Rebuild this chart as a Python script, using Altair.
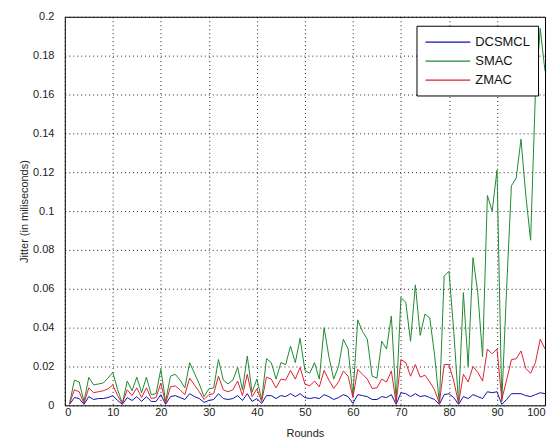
import altair as alt
import pandas as pd

rounds = list(range(1, 101))

dcsmcl = [0.0005, 0.004, 0.0035, 0.0005, 0.0045, 0.003, 0.0035, 0.0035, 0.004, 0.005,
          0.0025, 0.0005, 0.004, 0.0025, 0.0045, 0.002, 0.0045, 0.002, 0.002, 0.0055,
          0.0005, 0.0045, 0.005, 0.004, 0.003, 0.006, 0.0045, 0.0035, 0.0015, 0.0025,
          0.003, 0.006, 0.0035, 0.003, 0.0035, 0.005, 0.0025, 0.006, 0.002, 0.0035,
          0.001, 0.005, 0.005, 0.0035, 0.005, 0.0045, 0.006, 0.0045, 0.006, 0.004,
          0.0035, 0.004, 0.0035, 0.0055, 0.0045, 0.003, 0.004, 0.0055, 0.0045, 0.001,
          0.0055, 0.005, 0.0045, 0.003, 0.003, 0.0045, 0.004, 0.0055, 0.0005, 0.0065,
          0.006, 0.0045, 0.006, 0.0045, 0.005, 0.004, 0.003, 0.0005, 0.0055, 0.006,
          0.004, 0.0005, 0.0045, 0.0035, 0.0055, 0.0045, 0.0035, 0.007, 0.0065, 0.007,
          0.0005, 0.003, 0.006, 0.006, 0.006, 0.005, 0.0045, 0.0055, 0.0065, 0.006]

smac = [0.001, 0.013, 0.012, 0.002, 0.0144, 0.0105, 0.011, 0.0115, 0.014, 0.017,
        0.008, 0.001, 0.0125, 0.0075, 0.0145, 0.0065, 0.0145, 0.0055, 0.006, 0.0185,
        0.002, 0.015, 0.016, 0.013, 0.009, 0.022, 0.0165, 0.011, 0.0045, 0.0085,
        0.009, 0.0236, 0.013, 0.011, 0.013, 0.0195, 0.008, 0.0254, 0.0067, 0.0135,
        0.003, 0.024, 0.022, 0.0135, 0.022, 0.021, 0.0305, 0.022, 0.0345, 0.018,
        0.0165, 0.022, 0.0135, 0.040, 0.025, 0.0135, 0.020, 0.034, 0.029, 0.005,
        0.044, 0.038, 0.034, 0.015, 0.014, 0.033, 0.029, 0.046, 0.002, 0.0555,
        0.053, 0.033, 0.062, 0.036, 0.047, 0.045, 0.026, 0.001, 0.0665, 0.069,
        0.038, 0.001, 0.058, 0.020, 0.076, 0.058, 0.025, 0.108, 0.100, 0.121,
        0.002, 0.060, 0.113, 0.117, 0.137, 0.108, 0.085, 0.161, 0.194, 0.172]

zmac = [0.001, 0.008, 0.007, 0.001, 0.009, 0.0065, 0.007, 0.0075, 0.0085, 0.0105,
        0.005, 0.001, 0.008, 0.005, 0.009, 0.004, 0.009, 0.0035, 0.004, 0.0115,
        0.001, 0.0095, 0.010, 0.008, 0.0055, 0.014, 0.0105, 0.007, 0.003, 0.0055,
        0.006, 0.015, 0.008, 0.007, 0.008, 0.0125, 0.005, 0.016, 0.0045, 0.0085,
        0.002, 0.0145, 0.0135, 0.009, 0.0135, 0.013, 0.018, 0.0135, 0.0195, 0.011,
        0.010, 0.0125, 0.0095, 0.018, 0.013, 0.0087, 0.012, 0.0177, 0.015, 0.004,
        0.0185, 0.016, 0.0135, 0.0087, 0.009, 0.0135, 0.012, 0.0177, 0.001, 0.0236,
        0.022, 0.015, 0.021, 0.0145, 0.0155, 0.012, 0.008, 0.001, 0.021, 0.021,
        0.0125, 0.001, 0.016, 0.012, 0.020, 0.017, 0.0125, 0.029, 0.0265, 0.029,
        0.003, 0.013, 0.0235, 0.024, 0.028, 0.019, 0.0165, 0.022, 0.034, 0.029]

series_names = ["DCSMCL", "SMAC", "ZMAC"]
series_colors = ["#1010b0", "#1f8a30", "#e02030"]
x_ticks = list(range(0, 101, 10))
y_ticks = [round(i * 0.02, 2) for i in range(11)]

rows = []
for name, vals in zip(series_names, [dcsmcl, smac, zmac]):
    for r, v in zip(rounds, vals):
        rows.append({"Round": r, "Jitter": v, "Protocol": name})
df = pd.DataFrame(rows)

FONT = "Liberation Sans"

axis_common = dict(grid=True, ticks=False, domain=False,
                   gridColor="black", gridDash=[1, 3], gridOpacity=0.85, gridWidth=1,
                   labelFont=FONT, labelFontSize=11, labelColor="#222",
                   titleFont=FONT, titleFontSize=11, titleFontWeight="normal",
                   titleColor="#222")

chart = alt.Chart(df).mark_line(strokeWidth=1, clip=True).encode(
    x=alt.X("Round:Q",
            scale=alt.Scale(domain=[0, 100], nice=False, zero=False),
            axis=alt.Axis(title="Rounds", values=x_ticks, format="d",
                          labelPadding=1, titlePadding=10, **axis_common)),
    y=alt.Y("Jitter:Q",
            scale=alt.Scale(domain=[0, 0.2], nice=False),
            axis=alt.Axis(title="Jitter (in miliseconds)", values=y_ticks, format="~g",
                          labelPadding=11, titlePadding=3, **axis_common)),
    color=alt.Color("Protocol:N",
                    scale=alt.Scale(domain=series_names, range=series_colors),
                    legend=alt.Legend(title=None, orient="none", legendX=353, legendY=9,
                                      symbolType="M-3,0L3,0", symbolSize=225,
                                      symbolStrokeWidth=1.2, symbolOffset=15,
                                      labelFontSize=13, labelFont=FONT, labelColor="#111",
                                      strokeColor="black", fillColor="white",
                                      padding=8, rowPadding=3, labelOffset=19,
                                      cornerRadius=0)),
    order=alt.Order("Round:Q"),
).properties(
    width=482, height=390, background="white",
    padding={"left": 10, "top": 2, "right": 5, "bottom": 5},
).configure_view(
    stroke="black", strokeWidth=1
)

chart.save("out.html", embed_options={"renderer": "svg", "actions": False})
